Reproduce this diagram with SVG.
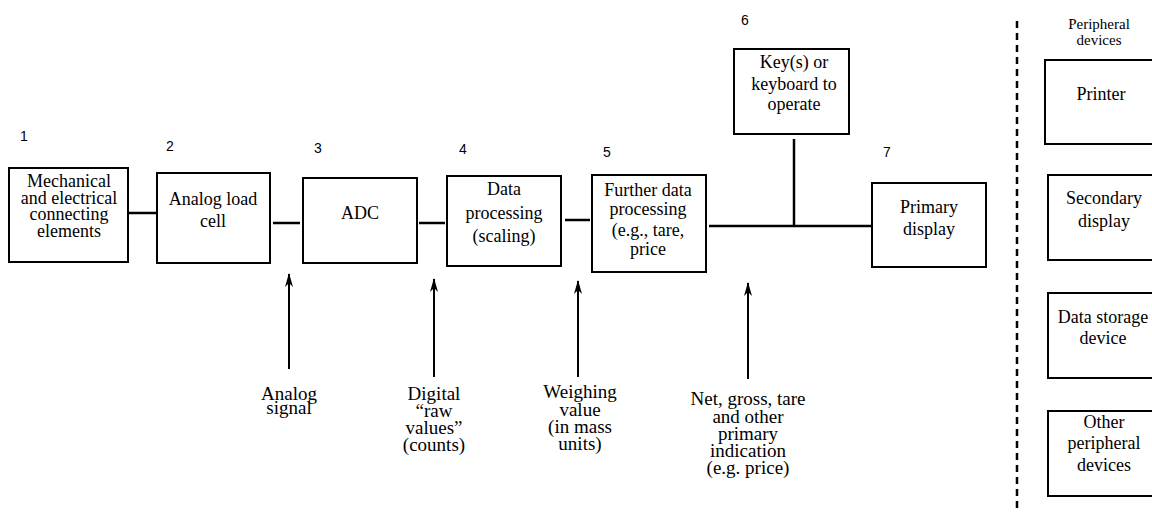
<svg xmlns="http://www.w3.org/2000/svg" width="1152" height="512" viewBox="0 0 1152 512">
<style>
.box{fill:#fff;stroke:#000;stroke-width:2}
.t{font-family:"Liberation Serif","Times New Roman",serif;font-size:18px;text-anchor:middle;fill:#000}
.lbl{font-family:"Liberation Serif","Times New Roman",serif;font-size:19px;text-anchor:middle;fill:#000}
.num{font-family:"Liberation Sans",Arial,sans-serif;font-size:14px;fill:#000}
.c{stroke:#000;stroke-width:2.5;fill:none}
.a{stroke:#000;stroke-width:2;fill:none;marker-end:url(#ah)}
</style>
<defs>
<marker id="ah" viewBox="0 0 14 8" refX="13" refY="4" markerWidth="14" markerHeight="8" markerUnits="userSpaceOnUse" orient="auto">
<path d="M0,0 L14,4 L0,8 L4,4 Z" fill="#000"/>
</marker>
</defs>
<rect width="1152" height="512" fill="#fff"/>

<g id="connectors">
<line class="c" x1="129" y1="213" x2="157" y2="213"/>
<line class="c" x1="273" y1="223" x2="300" y2="223"/>
<line class="c" x1="419" y1="223" x2="445" y2="223"/>
<line class="c" x1="565" y1="220" x2="590" y2="220"/>
<line class="c" x1="709" y1="226" x2="871" y2="226"/>
<line class="c" x1="794" y1="139" x2="794" y2="226"/>
<line class="a" x1="289" y1="369" x2="289" y2="274"/>
<line class="a" x1="434" y1="377" x2="434" y2="279"/>
<line class="a" x1="578" y1="377" x2="578" y2="281"/>
<line class="a" x1="748" y1="379" x2="748" y2="283"/>
<line x1="1017" y1="21" x2="1017" y2="512" stroke="#000" stroke-width="2.5" stroke-dasharray="7,5"/>
</g>

<g id="n1">
<rect class="box" x="9" y="168" width="119" height="94"/>
<text class="num" x="20" y="141">1</text>
<text class="t" x="69" y="187">Mechanical</text>
<text class="t" x="69" y="204">and electrical</text>
<text class="t" x="69" y="220">connecting</text>
<text class="t" x="69" y="237">elements</text>
</g>
<g id="n2">
<rect class="box" x="157" y="173" width="113" height="90"/>
<text class="num" x="166" y="151">2</text>
<text class="t" x="213" y="205">Analog load</text>
<text class="t" x="213" y="227">cell</text>
</g>
<g id="n3">
<rect class="box" x="303" y="178" width="114" height="85"/>
<text class="num" x="314" y="153">3</text>
<text class="t" x="360" y="219">ADC</text>
</g>
<g id="n4">
<rect class="box" x="447" y="176" width="114" height="90"/>
<text class="num" x="459" y="154">4</text>
<text class="t" x="504" y="195">Data</text>
<text class="t" x="504" y="219">processing</text>
<text class="t" x="504" y="242">(scaling)</text>
</g>
<g id="n5">
<rect class="box" x="592" y="175" width="114" height="97"/>
<text class="num" x="603" y="157">5</text>
<text class="t" x="648" y="196">Further data</text>
<text class="t" x="648" y="215">processing</text>
<text class="t" x="648" y="236">(e.g., tare,</text>
<text class="t" x="648" y="255">price</text>
</g>
<g id="n6">
<rect class="box" x="734" y="49" width="115" height="85"/>
<text class="num" x="741" y="25">6</text>
<text class="t" x="794" y="68">Key(s) or</text>
<text class="t" x="794" y="90">keyboard to</text>
<text class="t" x="794" y="110">operate</text>
</g>
<g id="n7">
<rect class="box" x="872" y="183" width="114" height="84"/>
<text class="num" x="883" y="157">7</text>
<text class="t" x="929" y="213">Primary</text>
<text class="t" x="929" y="235">display</text>
</g>

<g id="peripherals">
<text class="t" x="1099" y="29" style="font-size:15px">Peripheral</text>
<text class="t" x="1099" y="45" style="font-size:15px">devices</text>
</g>
<g id="printer">
<rect class="box" x="1045" y="60" width="120" height="84"/>
<text class="t" x="1101" y="100">Printer</text>
</g>
<g id="secondary">
<rect class="box" x="1048" y="175" width="117" height="85"/>
<text class="t" x="1104" y="204">Secondary</text>
<text class="t" x="1104" y="227">display</text>
</g>
<g id="storage">
<rect class="box" x="1048" y="293" width="117" height="85"/>
<text class="t" x="1103" y="323">Data storage</text>
<text class="t" x="1103" y="344">device</text>
</g>
<g id="other">
<rect class="box" x="1048" y="411" width="117" height="85"/>
<text class="t" x="1104" y="428">Other</text>
<text class="t" x="1104" y="449">peripheral</text>
<text class="t" x="1104" y="471">devices</text>
</g>

<g id="labels">
<text class="lbl" x="289" y="400">Analog</text>
<text class="lbl" x="289" y="414">signal</text>
<text class="lbl" x="434" y="400">Digital</text>
<text class="lbl" x="434" y="417">“raw</text>
<text class="lbl" x="434" y="434">values”</text>
<text class="lbl" x="434" y="451">(counts)</text>
<text class="lbl" x="580" y="398">Weighing</text>
<text class="lbl" x="580" y="416">value</text>
<text class="lbl" x="580" y="433">(in mass</text>
<text class="lbl" x="580" y="450">units)</text>
<text class="lbl" x="748" y="405">Net, gross, tare</text>
<text class="lbl" x="748" y="423">and other</text>
<text class="lbl" x="748" y="440">primary</text>
<text class="lbl" x="748" y="457">indication</text>
<text class="lbl" x="748" y="474">(e.g. price)</text>
</g>
</svg>
